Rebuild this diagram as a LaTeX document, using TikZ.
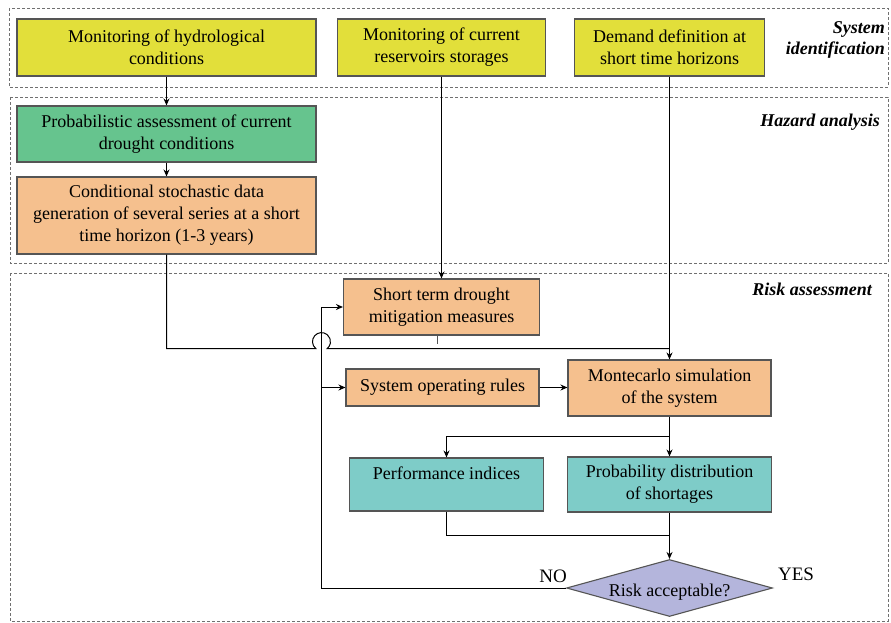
\documentclass[tikz,border=0pt]{standalone}
\usepackage{fontspec}
\setmainfont{Liberation Serif}
\usetikzlibrary{shapes.geometric,arrows.meta}
\definecolor{yel}{HTML}{E2DF3A}
\definecolor{grn}{HTML}{66C48E}
\definecolor{org}{HTML}{F5C08E}
\definecolor{teal2}{HTML}{7ECCC8}
\definecolor{lav}{HTML}{B4B5DC}
\definecolor{boxline}{HTML}{555555}
\definecolor{regline}{HTML}{707070}
\begin{document}
\begin{tikzpicture}[x=1pt,y=-1pt,
 box/.style={draw=boxline, line width=1.1pt, align=center, inner sep=0pt, font=\fontsize{18}{22}\selectfont},
 region/.style={draw=regline, dash pattern=on 3pt off 2pt, line width=0.9pt},
 conn/.style={line width=1pt, black},
 arr/.style={conn, -{Stealth[length=7pt,width=6pt]}},
 lbl/.style={font=\fontsize{18}{21}\selectfont\bfseries\itshape, align=right, anchor=east, inner sep=0pt},
 yn/.style={font=\fontsize{19}{22}\selectfont, inner sep=0pt}
]
\useasboundingbox (0,0) rectangle (891,623);
% regions
\draw[region] (9,8) rectangle (888,87);
\draw[region] (10,97) rectangle (888,263);
\draw[region] (10,273) rectangle (888,621);
\node[lbl] (lsys) at (885,40) {System\\identification};
\node[lbl] (lhaz) at (880,122) {Hazard analysis};
\node[lbl] (lrisk) at (872,289) {Risk assessment};
% nodes
\node[box, fill=yel, minimum width=299pt, minimum height=57pt] (hydro) at (166.5,47.5) {Monitoring of hydrological\\conditions};
\node[box, fill=yel, minimum width=208pt, minimum height=57pt] (reserv) at (441.5,47.5) {Monitoring of current\\reservoirs storages};
\node[box, fill=yel, minimum width=190pt, minimum height=57pt] (demand) at (669.5,47.5) {Demand definition at\\short time horizons};
\node[box, fill=grn, minimum width=299pt, minimum height=56pt] (prob) at (166.5,134) {Probabilistic assessment of current\\drought conditions};
\node[box, fill=org, minimum width=299pt, minimum height=77pt] (cond) at (166.5,215.5) {Conditional stochastic data\\generation of several series at a short\\time horizon (1-3 years)};
\node[box, fill=org, minimum width=196pt, minimum height=56pt] (short) at (441.5,307) {Short term drought\\mitigation measures};
\node[box, fill=org, minimum width=193pt, minimum height=37pt] (sor) at (442.5,387.5) {System operating rules};
\node[box, fill=org, minimum width=203pt, minimum height=56pt] (monte) at (669.5,388) {Montecarlo simulation\\of the system};
\node[box, fill=teal2, minimum width=194pt, minimum height=53pt] (perf) at (446.5,484.5) {Performance indices\\\mbox{}};
\node[box, fill=teal2, minimum width=204pt, minimum height=55pt] (probd) at (669.5,484.5) {Probability distribution\\of shortages};
\node[diamond, draw=boxline, line width=1.1pt, fill=lav, inner sep=0pt, minimum width=206pt, minimum height=57pt] (risk) at (669.5,588) {};
\node[font=\fontsize{18}{22}\selectfont, inner sep=0pt] (risktxt) at (669.5,592) {Risk acceptable?};
\node[yn] (no) at (553,576) {NO};
\node[yn] (yes) at (796,574) {YES};
% coordinates
\coordinate (hop) at (321.5,348.5);
\coordinate (split) at (669.5,436.5);
\coordinate (merge) at (669.5,535.5);
% connectors
\draw[arr] (hydro.south) -- (prob.north);
\draw[arr] (prob.south) -- (cond.north);
\draw[arr] (reserv.south) -- (short.north);
\draw[arr] (demand.south) -- (monte.north);
\draw[conn] (cond.south) |- ([xshift=-5.79pt]hop) arc[start angle=130, end angle=410, radius=9] -- (demand.south |- hop);
\draw[conn, draw=boxline] ([xshift=-4pt]short.south) -- ++(0,8);
\draw[arr] (risk.west) -| (hop |- short.west) -- (short.west);
\draw[arr] (hop |- sor.west) -- (sor.west);
\draw[arr] (sor.east) -- (sor.east -| monte.west);
\draw[arr] (monte.south) -- (probd.north);
\draw[arr] (split) -| (perf.north);
\draw[conn] (perf.south) |- (merge);
\draw[arr] (probd.south) -- (risk.north);
\end{tikzpicture}
\end{document}
